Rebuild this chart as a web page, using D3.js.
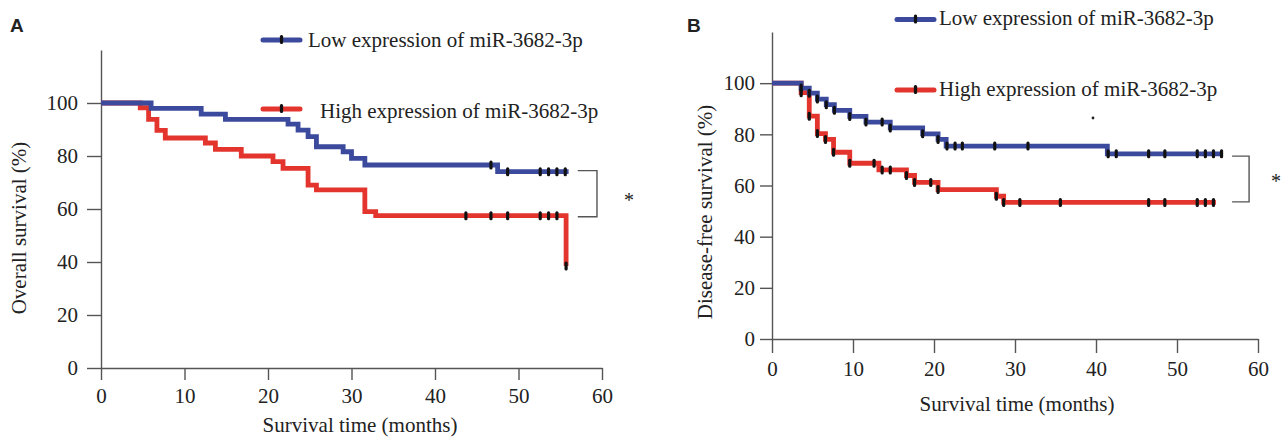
<!DOCTYPE html>
<html>
<head>
<meta charset="utf-8">
<script src="https://cdn.jsdelivr.net/npm/d3@7"></script>
<style>
  html, body { margin: 0; padding: 0; background: #fff; }
  svg { display: block; }
  text { font-family: "Liberation Serif", "Times New Roman", serif; fill: #222; }
</style>
</head>
<body>
<div id="chart"></div>
<script>
// Panel A: overall survival
const timesA_low = [0, 6, 12, 14.9, 22.4, 23.6, 24.8, 25.8, 29, 30, 31.6, 47.5, 56];
const survA_low = [100, 98, 95.8, 93.8, 92, 89.8, 87.3, 83.5, 81.6, 79.1, 76.6, 74.1, 74.1];
const censA_low = [46.7, 48.7, 52.6, 53.6, 54.6, 55.6];

const timesA_high = [0, 4.7, 5.7, 6.7, 7.7, 12.5, 13.7, 16.8, 20.6, 21.8, 24.8, 25.8, 31.6, 32.9, 55.7];
const survA_high = [100, 98.2, 93.8, 89.7, 86.8, 84.9, 82.5, 80, 77.9, 75.3, 69, 67.2, 59, 57.5, 38.5];
const censA_high = [43.7, 46.7, 48.7, 52.6, 53.6, 54.6, 55.7];

// Panel B: disease-free survival
const timesB_low = [0, 3.6, 4.6, 5.6, 6.7, 7.7, 9.6, 11.6, 14.6, 18.6, 20.5, 21.5, 41.4, 55.6];
const survB_low = [100, 98.1, 96.1, 93.8, 91.6, 89.4, 87, 84.8, 82.5, 80.2, 78, 75.4, 72.4, 72.4];
const censB_low = [3.6, 4.6, 5.6, 6.7, 7.7, 9.6, 11.6, 13.6, 14.6, 18.6, 20.5, 21.6, 22.6, 23.5, 27.5, 31.6,
                   41.5, 42.5, 46.5, 48.5, 52.5, 53.5, 54.5, 55.5];

const timesB_high = [0, 3.6, 4.6, 5.6, 6.6, 7.6, 9.6, 13.2, 16.6, 17.6, 20.5, 27.7, 28.6, 54.8];
const survB_high = [100, 96.3, 87.1, 80.3, 78, 73, 68.7, 66.1, 63.9, 61.2, 58.4, 55.8, 53.4, 53.4];
const censB_high = [3.6, 4.6, 5.6, 6.6, 7.6, 9.6, 12.6, 13.6, 14.6, 16.6, 17.6, 19.6, 20.5, 27.7, 28.6,
                    30.6, 35.6, 46.5, 48.5, 52.5, 53.5, 54.5];

const xTicks = [0, 10, 20, 30, 40, 50, 60];
const yTicks = [0, 20, 40, 60, 80, 100];
const seriesNames = ['Low expression of miR-3682-3p', 'High expression of miR-3682-3p'];

const BLUE = '#3b4a9c';
const RED = '#e3352e';

const width = 1288, height = 438;
const svg = d3.select('#chart').append('svg')
  .attr('width', width)
  .attr('height', height);

function levelAt(times, surv, t) {
  let v = surv[0];
  for (let i = 0; i < times.length; i++) {
    if (times[i] <= t + 1e-9) v = surv[i];
  }
  return v;
}

function drawPanel(p) {
  const g = svg.append('g');
  const x = d3.scaleLinear().domain([0, 60]).range(p.xRange);
  const y = d3.scaleLinear().domain([0, 120]).range(p.yRange);

  // axes
  const yAxis = g.append('g')
    .attr('transform', `translate(${p.xRange[0]},0)`)
    .call(d3.axisLeft(y).tickValues(yTicks).tickSize(p.yTickSize).tickSizeOuter(0).tickPadding(p.yPad));
  const xAxis = g.append('g')
    .attr('transform', `translate(0,${p.yRange[0]})`)
    .call(d3.axisBottom(x).tickValues(xTicks).tickSize(p.xTickSize).tickSizeOuter(0).tickPadding(p.xPad));
  [yAxis, xAxis].forEach(a => {
    a.selectAll('path, line').attr('stroke', '#555').attr('stroke-width', 1.4);
    a.selectAll('text')
      .style('font-family', '"Liberation Serif", "Times New Roman", serif')
      .style('font-size', '21px')
      .attr('fill', '#222');
  });

  const line = d3.line()
    .x(d => x(d[0]))
    .y(d => y(d[1]))
    .curve(d3.curveStepAfter);

  const series = [
    { times: p.high.times, surv: p.high.surv, cens: p.high.cens, color: RED },
    { times: p.low.times, surv: p.low.surv, cens: p.low.cens, color: BLUE }
  ];

  series.forEach(s => {
    g.append('path')
      .datum(s.times.map((t, i) => [t, s.surv[i]]))
      .attr('fill', 'none')
      .attr('stroke', s.color)
      .attr('stroke-width', 4.8)
      .attr('stroke-linejoin', 'miter')
      .attr('d', line);
  });

  series.forEach(s => {
    g.selectAll(null)
      .data(s.cens)
      .enter()
      .append('rect')
      .attr('x', t => x(t) - 1.6)
      .attr('y', t => y(levelAt(s.times, s.surv, t)) - 4.5)
      .attr('width', 3.2)
      .attr('height', 9)
      .attr('rx', 1.5)
      .attr('fill', '#111');
  });

  // significance bracket
  const b = p.bracket;
  g.append('path')
    .attr('d', `M${x(b.x0)},${y(b.top)}H${x(b.x1)}V${y(b.bottom)}H${x(b.x0)}`)
    .attr('fill', 'none')
    .attr('stroke', '#555')
    .attr('stroke-width', 1.4);
  g.append('text')
    .attr('x', p.star[0])
    .attr('y', p.star[1])
    .attr('text-anchor', 'middle')
    .style('font-size', '20px')
    .text('*');

  // legend
  p.legend.forEach((l, i) => {
    const color = i === 0 ? BLUE : RED;
    g.append('line')
      .attr('x1', l.x0).attr('x2', l.x1)
      .attr('y1', l.y).attr('y2', l.y)
      .attr('stroke', color)
      .attr('stroke-width', 5)
      .attr('stroke-linecap', 'round');
    g.append('rect')
      .attr('x', (l.x0 + l.x1) / 2 - 1.6)
      .attr('y', l.y - 5)
      .attr('width', 3.2)
      .attr('height', 9)
      .attr('rx', 1.5)
      .attr('fill', '#111');
    g.append('text')
      .attr('x', l.tx)
      .attr('y', l.ty)
      .style('font-size', '21px')
      .text(seriesNames[i]);
  });

  // titles
  g.append('text')
    .attr('x', p.xTitle[0])
    .attr('y', p.xTitle[1])
    .attr('text-anchor', 'middle')
    .style('font-size', '21px')
    .text('Survival time (months)');
  g.append('text')
    .attr('transform', `translate(${p.yTitle[0]},${p.yTitle[1]}) rotate(-90)`)
    .attr('text-anchor', 'middle')
    .style('font-size', '21px')
    .text(p.yLabel);
  g.append('text')
    .attr('x', p.tag[0])
    .attr('y', p.tag[1])
    .style('font-family', '"Liberation Sans", Arial, sans-serif')
    .style('font-weight', 'bold')
    .style('font-size', '19px')
    .text(p.tagText);
}

drawPanel({
  xRange: [101, 602], yRange: [368, 50],
  yTickSize: 14, yPad: 9, xTickSize: 12, xPad: 8,
  low: { times: timesA_low, surv: survA_low, cens: censA_low },
  high: { times: timesA_high, surv: survA_high, cens: censA_high },
  bracket: { x0: 57.1, x1: 59.4, top: 74.5, bottom: 57.1 },
  star: [629, 207],
  legend: [
    { x0: 263, x1: 300, y: 40, tx: 308, ty: 47 },
    { x0: 263, x1: 300, y: 109, tx: 320, ty: 118 }
  ],
  xTitle: [360, 432],
  yTitle: [26, 228],
  yLabel: 'Overall survival (%)',
  tag: [10, 32], tagText: 'A'
});

drawPanel({
  xRange: [772, 1258], yRange: [339, 32],
  yTickSize: 12, yPad: 5, xTickSize: 14, xPad: 8,
  low: { times: timesB_low, surv: survB_low, cens: censB_low },
  high: { times: timesB_high, surv: survB_high, cens: censB_high },
  bracket: { x0: 56.8, x1: 58.9, top: 71.5, bottom: 53.6 },
  star: [1276, 188],
  legend: [
    { x0: 897, x1: 934, y: 19.5, tx: 939, ty: 25 },
    { x0: 897, x1: 934, y: 90, tx: 939, ty: 96 }
  ],
  xTitle: [1017, 411],
  yTitle: [712, 212],
  yLabel: 'Disease-free survival (%)',
  tag: [687, 32], tagText: 'B'
});

// small scanning artefact in the source figure
svg.append('circle').attr('cx', 1093).attr('cy', 118).attr('r', 1.4).attr('fill', '#222');
</script>
</body>
</html>
